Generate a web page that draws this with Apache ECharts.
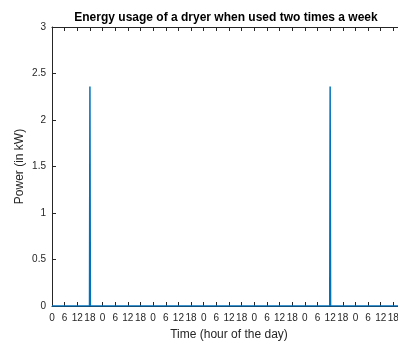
<!DOCTYPE html>
<html><head><meta charset="utf-8">
<script src="https://cdn.jsdelivr.net/npm/echarts@6/dist/echarts.min.js"></script>
<style>html,body{margin:0;padding:0;background:#fff}#c{width:398px;height:343px}</style>
</head><body><div id="c"></div>
<script>
const titleText = 'Energy usage of a dryer when used two times a week';
const xTitle = 'Time (hour of the day)';
const yTitle = 'Power (in kW)';
const timeHours = [0, 17.8, 18, 18.2, 131.8, 132, 132.2, 168];
const powerKW  = [0, 0, 2.36, 0, 0, 2.36, 0, 0];
const yTicks = [0, 0.5, 1, 1.5, 2, 2.5, 3];

const font = 'Liberation Sans, Arial, Helvetica, sans-serif';
const chart = echarts.init(document.getElementById('c'), null, {renderer: 'canvas'});
const axisLine = {show: true, lineStyle: {color: '#262626', width: 1}};
chart.setOption({
  animation: false,
  title: {text: titleText, left: 221, top: 7, textAlign: 'center',
    textStyle: {fontFamily: font, fontSize: 12, fontWeight: 'bold', color: '#000'}},
  grid: {left: 52, top: 27, width: 354, height: 279, outerBoundsMode: 'none', containLabel: false},
  xAxis: [{
    type: 'value', min: 0, max: 168, interval: 6,
    name: xTitle, nameLocation: 'middle', nameGap: 23, nameMoveOverlap: false,
    nameTextStyle: {fontFamily: font, fontSize: 12, color: '#262626'},
    axisLine: axisLine,
    axisTick: {show: true, inside: true, length: 4, lineStyle: {color: '#262626'}},
    axisLabel: {fontFamily: font, fontSize: 10, color: '#262626', margin: 7, interval: 0, hideOverlap: false,
      showMaxLabel: false, formatter: v => String(v % 24)},
    splitLine: {show: false}
  }, {
    type: 'value', min: 0, max: 168, interval: 6, position: 'top',
    axisLine: axisLine,
    axisTick: {show: true, inside: true, length: 4, lineStyle: {color: '#262626'}},
    axisLabel: {show: false}, splitLine: {show: false}
  }],
  yAxis: [{
    type: 'value', min: 0, max: 3, interval: 0.5,
    name: yTitle, nameLocation: 'middle', nameGap: 26, nameMoveOverlap: false,
    nameTextStyle: {fontFamily: font, fontSize: 12, color: '#262626'},
    axisLine: axisLine,
    axisTick: {show: true, inside: true, length: 4, lineStyle: {color: '#262626'}},
    axisLabel: {fontFamily: font, fontSize: 10, color: '#262626', margin: 6,
      formatter: v => yTicks.includes(v) ? String(v) : ''},
    splitLine: {show: false}
  }],
  series: [{
    type: 'line', xAxisIndex: 0, yAxisIndex: 0,
    data: timeHours.map((t, i) => [t, powerKW[i]]),
    showSymbol: false, symbol: 'none',
    lineStyle: {color: '#0072BD', width: 1.5},
    clip: true
  }]
});
</script></body></html>
